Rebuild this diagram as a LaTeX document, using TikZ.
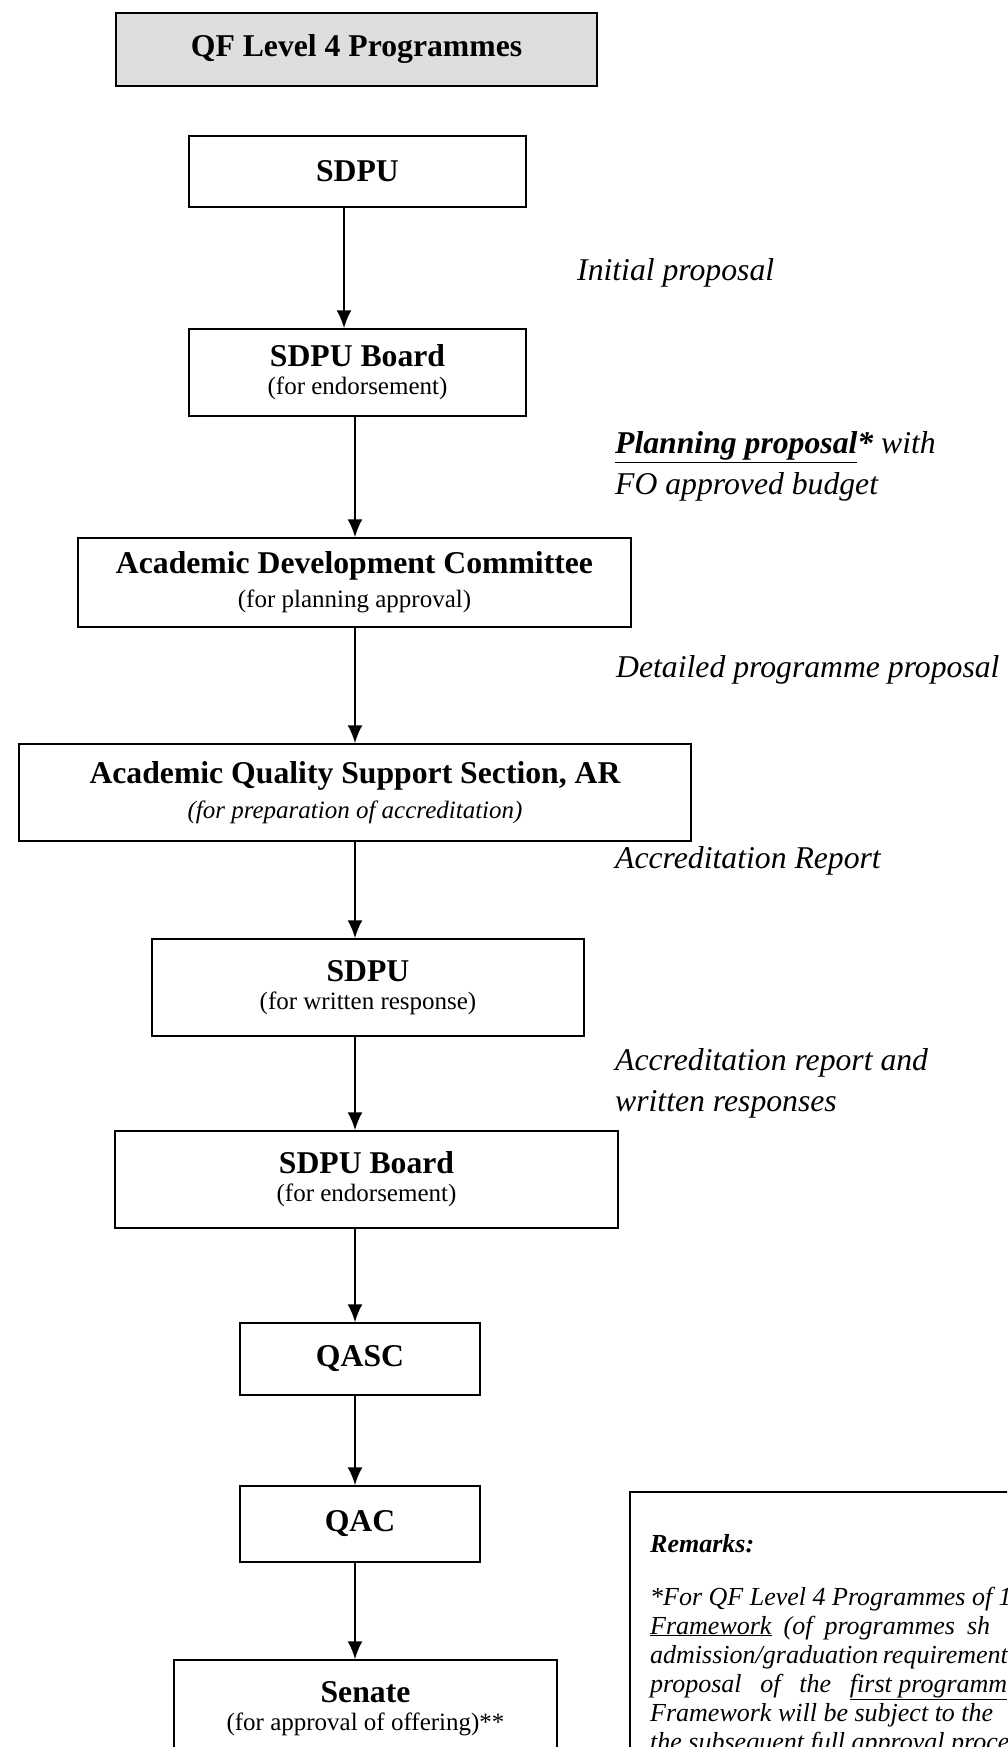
\documentclass[tikz,border=0pt]{standalone}
\usepackage{fontspec}
\setmainfont{Liberation Serif}
\usetikzlibrary{arrows.meta}
\tikzset{>={Latex[length=18pt,width=15pt]}}
\definecolor{hdg}{gray}{.87}
\newcommand*{\boxhd}{\fontsize{31.7}{30}\selectfont\bfseries}
\newcommand*{\boxsub}{\fontsize{25}{30}\selectfont\mdseries}
\newcommand*{\flowlbl}{\fontsize{31.7}{41}\selectfont\itshape}
\newcommand*{\rmkfont}{\fontsize{26}{29}\selectfont\itshape}

\begin{document}
\begin{tikzpicture}[x=1pt, y=-1pt,
    box/.style={draw, line width=1.5pt, inner sep=0pt, align=center},
    flow/.style={->, line width=2pt},
    lbl/.style={anchor=west, inner sep=0pt, align=left, font=\flowlbl},
    rmk/.style={anchor=base west, inner sep=0pt, font=\rmkfont}]
    \useasboundingbox(0, 0)rectangle(1007, 1747);
    \clip(0, 0)rectangle(1007, 1747);
    \node[box, fill=hdg, minimum width=481, minimum height=73](qf) at(356.5, 49.5){\boxhd QF Level 4 Programmes};
    \node[box, minimum width=337, minimum height=71](sdpu) at(357.5, 171.5){\boxhd SDPU};
    \node[box, minimum width=337, minimum height=87](sdpub) at(357.5, 372.5){\boxhd SDPU Board\\[9pt]\boxsub (for endorsement)};
    \node[box, minimum width=553, minimum height=89](adc) at(354.5, 582.5){\boxhd Academic Development Committee\\[9pt]\boxsub (for planning approval)};
    \node[box, minimum width=672, minimum height=97](aqss) at(355, 792.5){\boxhd Academic Quality Support Section, AR\\[9pt]\boxsub\itshape (for preparation of accreditation)};
    \node[box, minimum width=432, minimum height=97](sdpuw) at(368, 987.5){\boxhd SDPU\\[9pt]\boxsub (for written response)};
    \node[box, minimum width=503, minimum height=97](sdpubb) at(366.5, 1179.5){\boxhd SDPU Board\\[9pt]\boxsub (for endorsement)};
    \node[box, minimum width=240, minimum height=72](qasc) at(360, 1359){\boxhd QASC};
    \node[box, minimum width=240, minimum height=76](qac) at(360, 1524){\boxhd QAC};
    \node[box, minimum width=383, minimum height=97](senate) at(365.5, 1708.5){\boxhd Senate\\[9pt]\boxsub (for approval of offering)**};
    % arrows down the chain
    \coordinate(ax1) at(344, 0);
    \coordinate(ax) at(355, 0);
    \draw[flow](sdpu.south -| ax1)--(sdpub.north -| ax1);
    \draw[flow](sdpub.south -| ax)--(adc.north -| ax);
    \draw[flow](adc.south -| ax)--(aqss.north -| ax);
    \draw[flow](aqss.south -| ax)--(sdpuw.north -| ax);
    \draw[flow](sdpuw.south -| ax)--(sdpubb.north -| ax);
    \draw[flow](sdpubb.south -| ax)--(qasc.north -| ax);
    \draw[flow](qasc.south -| ax)--(qac.north -| ax);
    \draw[flow](qac.south -| ax)--(senate.north -| ax);
    % side notes
    \node[lbl](initp) at(577, 273){Initial proposal};
    \node[lbl](planp) at(615, 466.5){\underline{\textbf{Planning proposal}}\textbf{*} with\\FO approved budget};
    \node[lbl](detp) at(616, 670){Detailed programme proposal};
    \node[lbl](accr) at(615, 861){Accreditation Report};
    \node[lbl](accw) at(615, 1083.5){Accreditation report and\\written responses};
    % remarks
    \draw[line width=1.5pt](630, 1492)rectangle(1040, 1800);
    \node[rmk](rmk0) at(650, 1552){\bfseries Remarks:};
    \node[rmk](rmk1) at(650, 1605){*For QF Level 4 Programmes of 1};
    \node[rmk](rmk2) at(650, 1634){\makebox[340pt][s]{\underline{Framework} (of programmes sh}};
    \node[rmk](rmk3) at(650, 1663){\makebox[357pt][s]{admission/graduation requirement}};
    \node[rmk](rmk4) at(650, 1692){\makebox[357pt][s]{proposal of the \underline{first programm}}};
    \node[rmk](rmk5) at(650, 1721){Framework will be subject to the};
    \node[rmk](rmk6) at(650, 1750){the subsequent full approval process};
\end{tikzpicture}
\end{document}
